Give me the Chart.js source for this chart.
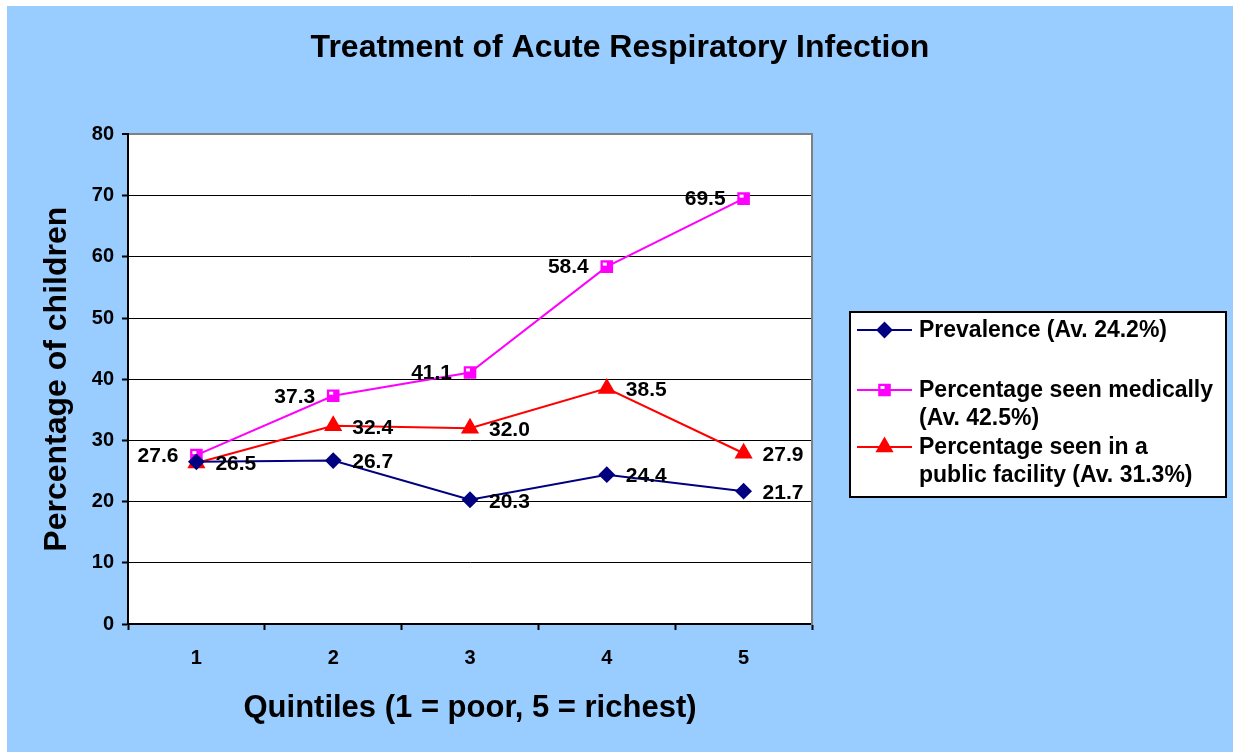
<!DOCTYPE html>
<html>
<head>
<meta charset="utf-8">
<title>Treatment of Acute Respiratory Infection</title>
<script src="https://cdn.jsdelivr.net/npm/chart.js@4.4.1/dist/chart.umd.min.js"></script>
<style>
  html, body { margin: 0; padding: 0; background: #fff; }
  #wrap { position: absolute; left: 7px; top: 6px; width: 1226px; height: 746px; background: #99ccff; }
</style>
</head>
<body>
<div id="wrap"><canvas id="myChart" width="1226" height="746"></canvas></div>
<script>
// data
const quintiles = ['1', '2', '3', '4', '5'];
const prevalence = [26.5, 26.7, 20.3, 24.4, 21.7];
const seenMedically = [27.6, 37.3, 41.1, 58.4, 69.5];
const seenPublic = [26.3, 32.4, 32.0, 38.5, 27.9];
const seriesNames = [
    ['Prevalence (Av. 24.2%)'],
    ['Percentage seen medically', '(Av. 42.5%)'],
    ['Percentage seen in a', 'public facility (Av. 31.3%)']
];
const yTicks = [0, 10, 20, 30, 40, 50, 60, 70, 80];

const FONT = "'Liberation Sans', Arial, sans-serif";

// white plot area behind everything
const plotArea = {
    id: 'plotArea',
    beforeDraw(chart) {
        let ctx = chart.ctx, a = chart.chartArea;
        ctx.save();
        ctx.fillStyle = '#ffffff';
        ctx.fillRect(a.left, a.top, a.right - a.left, a.bottom - a.top);
        ctx.restore();
    }
};

// excel style square marker has a small white patch in it
function whitePatch(ctx, x, y) {
    ctx.fillStyle = '#ffffff';
    ctx.fillRect(x - 4, y - 4, 4, 3);
}

// value labels next to each point
const pointLabels = {
    id: 'pointLabels',
    afterDatasetsDraw(chart) {
        let ctx = chart.ctx;
        ctx.save();
        ctx.font = 'bold 21px ' + FONT;
        ctx.textBaseline = 'middle';
        chart.data.datasets.forEach((ds, i) => {
            chart.getDatasetMeta(i).data.forEach((pt, j) => {
                if (ds.innerPatch) whitePatch(ctx, pt.x, pt.y);
                if (ds.hideLabels && ds.hideLabels.includes(j)) return;
                let txt = ds.data[j].toFixed(1);
                ctx.fillStyle = '#000';
                if (ds.labelSide === 'left') {
                    ctx.textAlign = 'right';
                    ctx.fillText(txt, pt.x - 18, pt.y + 1);
                } else {
                    ctx.textAlign = 'left';
                    ctx.fillText(txt, pt.x + 19, pt.y + 2);
                }
            });
        });
        ctx.restore();
    }
};

// boxed legend on the right, with wrapped names
const legendBox = {
    id: 'legendBox',
    afterDraw(chart) {
        let ctx = chart.ctx;
        let rows = [324, 384, 441];
        ctx.save();
        ctx.fillStyle = '#ffffff';
        ctx.fillRect(843, 306, 376, 185);
        ctx.strokeStyle = '#000';
        ctx.lineWidth = 2;
        ctx.strokeRect(843, 306, 376, 185);
        ctx.font = 'bold 23px ' + FONT;
        ctx.textBaseline = 'middle';
        ctx.textAlign = 'left';
        chart.data.datasets.forEach((ds, i) => {
            let y = rows[i];
            ctx.strokeStyle = ds.borderColor;
            ctx.lineWidth = 2;
            ctx.beginPath();
            ctx.moveTo(850, y);
            ctx.lineTo(905, y);
            ctx.stroke();
            ctx.fillStyle = ds.backgroundColor;
            Chart.helpers.drawPoint(ctx, {
                pointStyle: ds.pointStyle, radius: ds.pointRadius, rotation: 0, borderWidth: 1
            }, 877.5, y);
            if (ds.innerPatch) whitePatch(ctx, 877.5, y);
            ctx.fillStyle = '#000';
            seriesNames[i].forEach((line, k) => ctx.fillText(line, 912, y + 1 + k * 28));
        });
        ctx.restore();
    }
};

let ctx = document.getElementById('myChart').getContext('2d');
new Chart(ctx, {
    type: 'line',
    data: {
        labels: quintiles,
        datasets: [
            {
                label: seriesNames[0].join(' '),
                data: prevalence,
                borderColor: '#000080',
                backgroundColor: '#000080',
                borderWidth: 2,
                pointStyle: 'rectRot',
                pointRadius: 7,
                labelSide: 'right'
            },
            {
                label: seriesNames[1].join(' '),
                data: seenMedically,
                borderColor: '#ff00ff',
                backgroundColor: '#ff00ff',
                borderWidth: 2,
                pointStyle: 'rect',
                pointRadius: 7.5,
                labelSide: 'left',
                innerPatch: true
            },
            {
                label: seriesNames[2].join(' '),
                data: seenPublic,
                borderColor: '#ff0000',
                backgroundColor: '#ff0000',
                borderWidth: 2,
                pointStyle: 'triangle',
                pointRadius: 8.5,
                labelSide: 'right',
                hideLabels: [0]
            }
        ]
    },
    options: {
        responsive: false,
        animation: false,
        layout: { padding: 0 },
        plugins: {
            legend: { display: false },
            tooltip: { enabled: false },
            title: {
                display: true,
                text: 'Treatment of Acute Respiratory Infection',
                color: '#000',
                font: { family: FONT, size: 32, weight: 'bold' },
                padding: { top: 23, bottom: 67 }
            }
        },
        scales: {
            x: {
                offset: true,
                grid: { offset: true, drawOnChartArea: false, color: '#000', tickLength: 6, tickWidth: 2 },
                border: { color: '#000', width: 2 },
                ticks: { color: '#000', padding: 16, font: { family: FONT, size: 20, weight: 'bold' } },
                title: {
                    display: true,
                    text: 'Quintiles (1 = poor, 5 = richest)',
                    color: '#000',
                    font: { family: FONT, size: 31, weight: 'bold' },
                    padding: { top: 0, bottom: 25 }
                },
                afterFit: s => { s.height = 128; }
            },
            y: {
                min: 0,
                max: 80,
                afterBuildTicks: s => { s.ticks = yTicks.map(v => ({ value: v })); },
                grid: {
                    color: c => c.tick && c.tick.value === 80 ? '#808080' : '#000',
                    lineWidth: c => c.tick && c.tick.value === 80 ? 2 : 1,
                    tickColor: '#000',
                    tickLength: 6,
                    tickWidth: 2
                },
                border: { color: '#000', width: 2 },
                ticks: { color: '#000', padding: 8, font: { family: FONT, size: 20, weight: 'bold' } },
                title: {
                    display: true,
                    text: 'Percentage of children',
                    color: '#000',
                    font: { family: FONT, size: 32, weight: 'bold' },
                    padding: { top: 31, bottom: 0 }
                },
                afterFit: s => { s.width = 121; }
            },
            yRight: {
                position: 'right',
                grid: { display: false },
                ticks: { display: false },
                border: { color: '#808080', width: 2 },
                afterFit: s => { s.width = 421; }
            }
        }
    },
    plugins: [plotArea, pointLabels, legendBox]
});
</script>
</body>
</html>
